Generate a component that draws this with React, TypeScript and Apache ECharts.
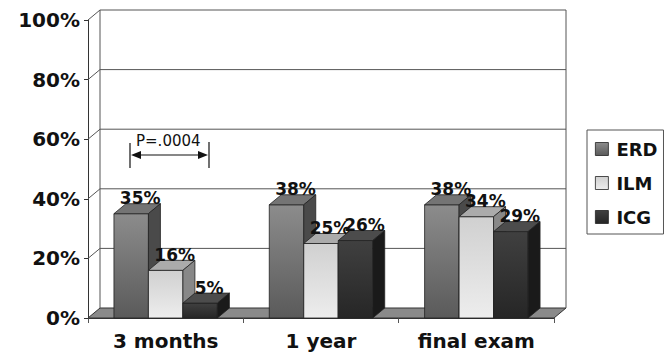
import { useEffect, useRef } from "react";
import * as echarts from "echarts";

// Chart data
const categories = ["3 months", "1 year", "final exam"];
const seriesNames = ["ERD", "ILM", "ICG"];
const erdValues = [35, 38, 38];
const ilmValues = [16, 25, 34];
const icgValues = [5, 26, 29];
const yTicks = [0, 20, 40, 60, 80, 100];
const pValueText = "P=.0004";

// 3D look: depth offset of bars / walls (pixels)
const DX = 12;
const DY = -10;
const BAR_RATIO = 0.222;
const FONT = "DejaVu Sans";

const faces = [
  { front: ["#8c8c8c", "#5a5a5a"], top: "#747474", side: "#4a4a4a" },
  { front: ["#d0d0d0", "#ededed"], top: "#ababab", side: "#888888" },
  { front: ["#404040", "#262626"], top: "#4c4c4c", side: "#1a1a1a" },
];

const frontGradient = (i: number) =>
  new echarts.graphic.LinearGradient(0, 0, 0, 1, [
    { offset: 0, color: faces[i].front[0] },
    { offset: 1, color: faces[i].front[1] },
  ]);

export default function App() {
  const ref = useRef<HTMLDivElement>(null);

  useEffect(() => {
    if (!ref.current) return;
    const chart = echarts.init(ref.current, undefined, { renderer: "svg" });
    const allValues = [erdValues, ilmValues, icgValues];

    const frameSeries: any = {
      type: "custom",
      name: "frame",
      z: 1,
      silent: true,
      data: yTicks.map((v) => [0, v]),
      renderItem: (params: any, api: any) => {
        const cs = params.coordSys;
        const left = cs.x;
        const right = cs.x + cs.width;
        const v = api.value(1);
        const y = api.coord([0, v])[1];
        const children: any[] = [];
        if (v === 0) {
          const yTop = api.coord([0, yTicks[yTicks.length - 1]])[1];
          children.push({
            type: "polygon",
            shape: {
              points: [
                [left, y],
                [right, y],
                [right + DX, y + DY],
                [left + DX, y + DY],
              ],
            },
            style: { fill: "#8a8a8a", stroke: "#333", lineWidth: 1 },
          });
          children.push({
            type: "line",
            shape: { x1: left + DX, y1: y + DY, x2: left + DX, y2: yTop + DY },
            style: { stroke: "#555", lineWidth: 1 },
          });
          children.push({
            type: "line",
            shape: { x1: right + DX, y1: y + DY, x2: right + DX, y2: yTop + DY },
            style: { stroke: "#555", lineWidth: 1 },
          });
        } else {
          children.push({
            type: "polyline",
            shape: {
              points: [
                [left, y],
                [left + DX, y + DY],
                [right + DX, y + DY],
              ],
            },
            style: { stroke: "#555", fill: "none", lineWidth: 1 },
          });
        }
        return { type: "group", children };
      },
    };

    const barSeries = seriesNames.map((name, si) => ({
      type: "custom",
      name,
      z: 3,
      itemStyle: { color: frontGradient(si) },
      data: allValues[si].map((v, i) => [i, v]),
      renderItem: (params: any, api: any) => {
        const cat = api.value(0);
        const v = api.value(1);
        const [cx, yTop] = api.coord([cat, v]);
        const yBase = api.coord([cat, 0])[1];
        const band = api.size([1, 0])[0];
        const bw = band * BAR_RATIO;
        const x0 = cx - bw * 1.5 + si * bw;
        const x1 = x0 + bw;
        const edge = { stroke: "#222", lineWidth: 0.8 };
        return {
          type: "group",
          children: [
            {
              type: "rect",
              shape: { x: x0, y: yTop, width: bw, height: yBase - yTop },
              style: { fill: frontGradient(si), ...edge },
            },
            {
              type: "polygon",
              shape: {
                points: [
                  [x0, yTop],
                  [x1, yTop],
                  [x1 + DX, yTop + DY],
                  [x0 + DX, yTop + DY],
                ],
              },
              style: { fill: faces[si].top, ...edge },
            },
            {
              type: "polygon",
              shape: {
                points: [
                  [x1, yTop],
                  [x1 + DX, yTop + DY],
                  [x1 + DX, yBase + DY],
                  [x1, yBase],
                ],
              },
              style: { fill: faces[si].side, ...edge },
            },
            {
              type: "text",
              style: {
                text: `${v}%`,
                x: (x0 + x1) / 2 + DX / 2 + 3,
                y: yTop + DY + 3,
                align: "center",
                verticalAlign: "bottom",
                font: `bold 17px "${FONT}"`,
                fill: "#111",
              },
            },
          ],
        };
      },
    }));

    const ink = "#111";
    chart.setOption({
      animation: false,
      backgroundColor: "#fff",
      grid: { left: 88, right: 116, top: 20, bottom: 40, containLabel: false },
      xAxis: {
        type: "category",
        data: categories,
        axisLine: { show: true, lineStyle: { color: "#333", width: 1 } },
        axisTick: { show: true, length: 5, lineStyle: { color: "#555" } },
        axisLabel: {
          margin: 13,
          fontFamily: FONT,
          fontWeight: "bold",
          fontSize: 20,
          color: ink,
        },
      },
      yAxis: {
        type: "value",
        min: 0,
        max: 100,
        interval: 20,
        splitLine: { show: false },
        axisLine: { show: true, lineStyle: { color: "#333", width: 1 } },
        axisTick: { show: true, length: 4, lineStyle: { color: "#333" } },
        axisLabel: {
          formatter: "{value}%",
          margin: 8,
          fontFamily: FONT,
          fontWeight: "bold",
          fontSize: 20,
          color: ink,
        },
      },
      legend: {
        orient: "vertical",
        left: 587,
        top: 130,
        padding: [9, 6, 7, 8],
        itemGap: 14,
        itemWidth: 13,
        itemHeight: 13,
        icon: "rect",
        borderColor: "#555",
        borderWidth: 1,
        selectedMode: false,
        data: seriesNames.map((n, i) => ({
          name: n,
          itemStyle: { color: frontGradient(i), borderColor: "#222", borderWidth: 0.8 },
        })),
        textStyle: {
          fontFamily: FONT,
          fontWeight: "bold",
          fontSize: 18,
          lineHeight: 20,
          color: ink,
          padding: [0, 0, 0, 3],
        },
      },
      graphic: [
        {
          type: "text",
          x: 136,
          y: 141,
          style: { text: pValueText, font: `15px "${FONT}"`, fill: ink, verticalAlign: "middle" },
        },
        { type: "line", shape: { x1: 130, y1: 143, x2: 130, y2: 168 }, style: { stroke: ink, lineWidth: 1.2 } },
        { type: "line", shape: { x1: 209, y1: 142, x2: 209, y2: 168 }, style: { stroke: ink, lineWidth: 1.2 } },
        { type: "line", shape: { x1: 135, y1: 155, x2: 204, y2: 155 }, style: { stroke: ink, lineWidth: 1.2 } },
        { type: "polygon", shape: { points: [[131, 155], [141, 151], [141, 159]] }, style: { fill: ink } },
        { type: "polygon", shape: { points: [[208, 155], [198, 151], [198, 159]] }, style: { fill: ink } },
      ],
      series: [frameSeries, ...barSeries],
    });

    return () => chart.dispose();
  }, []);

  return (
    <div
      ref={ref}
      style={{ position: "fixed", left: 0, top: 0, width: 670, height: 358, background: "#fff" }}
    />
  );
}
